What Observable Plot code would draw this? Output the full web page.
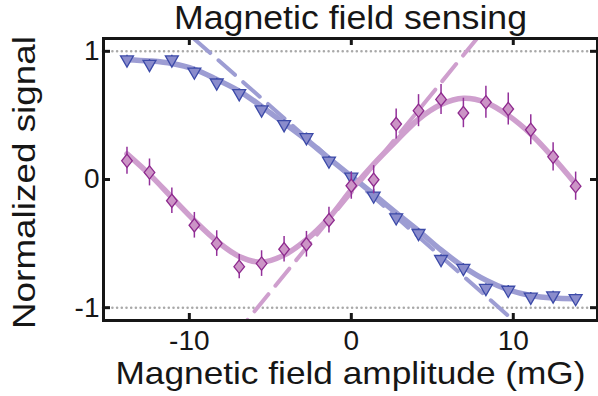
<!DOCTYPE html>
<html><head><meta charset="utf-8">
<script src="https://cdn.jsdelivr.net/npm/d3@7"></script>
<script src="https://cdn.jsdelivr.net/npm/@observablehq/plot@0.6"></script>
<style>
html,body{margin:0;padding:0;background:#fff;}
#chart svg{display:block;}
</style>
</head><body><div id="chart"></div>
<script>
// ---- data ----
const fieldMG = [-13.85, -12.46, -11.08, -9.69, -8.31, -6.92, -5.54, -4.15, -2.77, -1.38, 0, 1.38, 2.77, 4.15, 5.54, 6.92, 8.31, 9.69, 11.08, 12.46, 13.85];
const signalBlue = [0.935, 0.90, 0.935, 0.84, 0.755, 0.672, 0.545, 0.43, 0.328, 0.146, 0.02, -0.127, -0.297, -0.419, -0.622, -0.692, -0.848, -0.862, -0.916, -0.906, -0.927];
const errBlue = [0.035, 0.035, 0.035, 0.035, 0.035, 0.035, 0.035, 0.035, 0.035, 0.035, 0.04, 0.05, 0.035, 0.035, 0.035, 0.035, 0.035, 0.035, 0.035, 0.035, 0.035];
const signalPink = [0.146, 0.055, -0.166, -0.357, -0.50, -0.68, -0.656, -0.544, -0.505, -0.317, -0.049, -0.002, 0.433, 0.537, 0.625, 0.519, 0.602, 0.55, 0.388, 0.177, -0.052];
const errPink = [0.105, 0.105, 0.10, 0.10, 0.10, 0.095, 0.10, 0.10, 0.10, 0.10, 0.105, 0.11, 0.117, 0.125, 0.117, 0.115, 0.125, 0.125, 0.117, 0.11, 0.11];
const fitBlue = [0.935, 0.925, 0.905, 0.86, 0.78, 0.69, 0.57, 0.44, 0.31, 0.165, 0.025, -0.115, -0.26, -0.40, -0.55, -0.68, -0.785, -0.86, -0.905, -0.925, -0.93];
const fitPink = [0.20, 0.04, -0.14, -0.32, -0.48, -0.60, -0.645, -0.59, -0.47, -0.30, -0.08, 0.12, 0.30, 0.47, 0.585, 0.633, 0.60, 0.50, 0.355, 0.17, -0.035];
const tangentBlueX = [-9.73, 10.02];
const tangentBlueY = [1.1, -1.1];
const tangentPinkX = [7.76, -6.44];
const tangentPinkY = [1.1, -1.1];
const xTicks = [-10, 0, 10];
const yTicks = [-1, 0, 1];
const refLevels = [-1, 1];
const titleText = "Magnetic field sensing";
const xLabelText = "Magnetic field amplitude (mG)";
const yLabelText = "Normalized signal";

// ---- tables ----
const blueRows = fieldMG.map((x, i) => ({x, y: signalBlue[i], e: errBlue[i], f: fitBlue[i]}));
const pinkRows = fieldMG.map((x, i) => ({x, y: signalPink[i], e: errPink[i], f: fitPink[i]}));
const tBlue = tangentBlueX.map((x, i) => ({x, y: tangentBlueY[i]}));
const tPink = tangentPinkX.map((x, i) => ({x, y: tangentPinkY[i]}));

const diamond = {
  draw(ctx, size) {
    const r = Math.sqrt(size / Math.PI);
    ctx.moveTo(0, -r * 1.25);
    ctx.lineTo(r, 0);
    ctx.lineTo(0, r * 1.25);
    ctx.lineTo(-r, 0);
    ctx.closePath();
  }
};

const ink = "#161616";
const plain = d => `${d}`;
const plot = Plot.plot({
  width: 598,
  height: 396,
  marginLeft: 103,
  marginRight: 1,
  marginTop: 38,
  marginBottom: 76,
  x: {domain: [-15.3, 15.2], label: null},
  y: {domain: [-1.1, 1.1], label: null},
  style: {fontFamily: "'Liberation Sans', Arial, Helvetica, sans-serif", color: ink, background: "#fff"},
  marks: [
    Plot.ruleY(refLevels, {y: d => d, stroke: "#a9a9a9", strokeWidth: 2.6, strokeDasharray: "0,4.7", strokeLinecap: "round"}),
    Plot.line(tBlue, {x: "x", y: "y", stroke: "#9d9dd3", strokeWidth: 4, strokeDasharray: "22,11", clip: true}),
    Plot.line(tPink, {x: "x", y: "y", stroke: "#cf9fce", strokeWidth: 4, strokeDasharray: "22,11", clip: true}),
    Plot.line(blueRows, {x: "x", y: "f", curve: "catmull-rom", stroke: "#9d9dd3", strokeWidth: 5.5}),
    Plot.line(pinkRows, {x: "x", y: "f", curve: "catmull-rom", stroke: "#cf9fce", strokeWidth: 5.5}),
    Plot.ruleX(blueRows, {x: "x", y1: d => d.y - d.e, y2: d => d.y + d.e, stroke: "#3c4aa8", strokeWidth: 1.5}),
    Plot.dot(blueRows, {x: "x", y: "y", symbol: "triangle", rotate: 180, r: 4.8, fill: "#8a8ccc", stroke: "#3c4aa8", strokeWidth: 1.3}),
    Plot.ruleX(pinkRows, {x: "x", y1: d => d.y - d.e, y2: d => d.y + d.e, stroke: "#93309a", strokeWidth: 1.5}),
    Plot.dot(pinkRows, {x: "x", y: "y", symbol: diamond, r: 5.3, fill: "#cc94c6", stroke: "#8e2a8e", strokeWidth: 1.3}),
    Plot.frame({stroke: ink, strokeWidth: 3}),
    Plot.tickX(xTicks, {x: d => d, insetTop: 275, stroke: ink, strokeWidth: 3}),
    Plot.tickX(xTicks, {x: d => d, insetBottom: 275, stroke: ink, strokeWidth: 3}),
    Plot.tickY(yTicks, {y: d => d, insetRight: 487, stroke: ink, strokeWidth: 3}),
    Plot.tickY(yTicks, {y: d => d, insetLeft: 487, stroke: ink, strokeWidth: 3}),
    Plot.axisX(xTicks, {tickSize: 0, tickPadding: 10, fontSize: 28, label: null, fill: ink, tickFormat: plain}),
    Plot.axisY(yTicks, {tickSize: 0, tickPadding: 4, fontSize: 28, label: null, fill: ink, tickFormat: plain}),
    Plot.text([xLabelText], {text: d => d, frameAnchor: "bottom", lineAnchor: "top", dy: 41, fontSize: 32, fill: ink}),
    Plot.text([titleText], {text: d => d, frameAnchor: "top", lineAnchor: "top", dy: -33, fontSize: 33, fill: ink}),
    Plot.text([yLabelText], {text: d => d, frameAnchor: "left", textAnchor: "middle", rotate: -90, lineAnchor: "top", dx: -91, dy: 3, fontSize: 31, fill: ink})
  ]
});
document.getElementById("chart").appendChild(plot);

// stretch the labels to the reference's wide lettering
const stretch = {[titleText]: 353, [xLabelText]: 470, [yLabelText]: 293};
d3.select(plot).selectAll("text").each(function () {
  const t = this.textContent;
  if (stretch[t]) {
    d3.select(this).attr("textLength", stretch[t]).attr("lengthAdjust", "spacingAndGlyphs");
  }
});
</script>
</body></html>
